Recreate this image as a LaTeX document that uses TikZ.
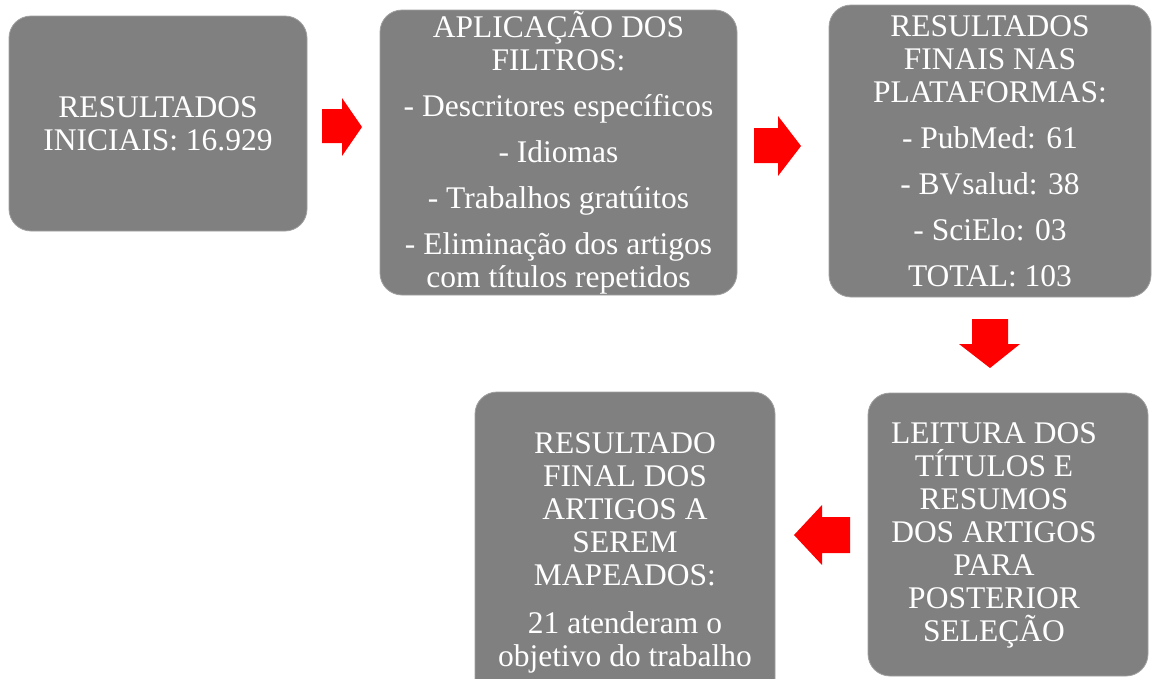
\documentclass[tikz,border=0pt]{standalone}
\usepackage{fontspec}
\setmainfont{Liberation Serif}
\definecolor{boxgray}{RGB}{128,128,128}
\definecolor{boxedge}{RGB}{160,160,160}
\definecolor{arrred}{RGB}{255,0,0}
\tikzset{
  flowbox/.style={rectangle, rounded corners=22pt, fill=boxgray, draw=boxedge, line width=0.8pt,
    text=white, inner sep=0pt, align=center, font=\fontsize{31.5}{33}\selectfont},
  boxtext/.style={text=white, inner sep=0pt, align=center, font=\fontsize{31.5}{33}\selectfont},
  blockarrow/.style={fill=arrred}
}
\begin{document}
\begin{tikzpicture}[x=1pt,y=-1pt]
\clip (0,0) rectangle (1153,678);
\fill[white] (0,0) rectangle (1153,678);
% boxes
\node[flowbox, minimum width=298pt, minimum height=215pt] (b1) at (158,123.5)
  {RESULTADOS\\INICIAIS: 16.929};
\node[flowbox, minimum width=357pt, minimum height=285pt] (b2) at (558.5,152.5)
  {APLICAÇÃO DOS\\FILTROS:\\[13pt]- Descritores específicos\\[13pt]- Idiomas\\[13pt]- Trabalhos gratúitos\\[13pt]- Eliminação dos artigos\\com títulos repetidos};
\node[flowbox, minimum width=322pt, minimum height=292pt] (b3) at (990,151)
  {RESULTADOS\\FINAIS NAS\\PLATAFORMAS:\\[13pt]- PubMed: 61\\[13pt]- BVsalud: 38\\[13pt]- SciElo: 03\\[13pt]TOTAL: 103};
\node[flowbox, minimum width=280pt, minimum height=283pt] (b4) at (1008,534.5) {};
\node[boxtext] (t4) at (994,535)
  {LEITURA DOS\\TÍTULOS E\\RESUMOS\\DOS ARTIGOS\\PARA\\POSTERIOR\\SELEÇÃO};
\node[flowbox, minimum width=300pt, minimum height=322pt] (b5) at (625,553)
  {RESULTADO\\FINAL DOS\\ARTIGOS A\\SEREM\\MAPEADOS:\\[15pt]21 atenderam o\\objetivo do trabalho};
% block arrows
\fill[blockarrow] (322,109) -- (342,109) -- (342,98) -- (362,127) -- (342,156) -- (342,143) -- (322,143) -- cycle;
\fill[blockarrow] (754,128) -- (778,128) -- (778,116) -- (801,146) -- (778,176) -- (778,163) -- (754,163) -- cycle;
\fill[blockarrow] (972,319) -- (1008,319) -- (1008,344) -- (1020,344) -- (990,368) -- (959,344) -- (972,344) -- cycle;
\fill[blockarrow] (850,517) -- (822,517) -- (822,505) -- (794,535) -- (822,565) -- (822,553) -- (850,553) -- cycle;
\end{tikzpicture}
\end{document}
